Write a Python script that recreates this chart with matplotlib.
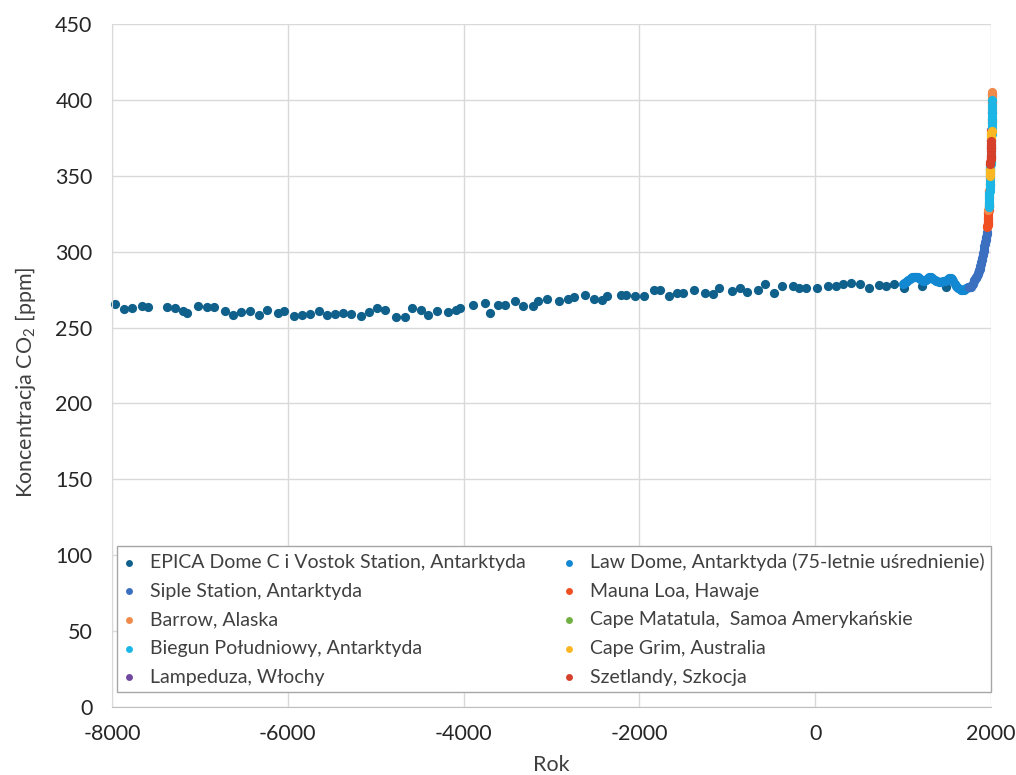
import matplotlib
matplotlib.use('Agg')
import matplotlib.pyplot as plt

plt.rcParams['font.family'] = ['Lato', 'DejaVu Sans']
plt.rcParams['axes.unicode_minus'] = False
plt.rcParams['mathtext.fontset'] = 'custom'
plt.rcParams['mathtext.rm'] = 'Lato'

# EPICA Dome C i Vostok
epica_year = [-7966, -7863, -7776, -7662, -7587, -7370, -7282, -7191, -7146, -7024,
              -6921, -6838, -6713, -6625, -6527, -6432, -6329, -6235, -6109, -6038,
              -5924, -5839, -5745, -5642, -5559, -5464, -5369, -5278, -5164, -5073,
              -4990, -4891, -4769, -4671, -4587, -4489, -4401, -4306, -4177, -4085,
              -4040, -3896, -3755, -3703, -3612, -3527, -3413, -3322, -3213, -3156,
              -3054, -2917, -2814, -2746, -2621, -2522, -2423, -2366, -2206, -2149,
              -2051, -1949, -1838, -1762, -1664, -1568, -1500, -1383, -1257, -1163,
              -1094, -946, -851, -775, -650, -574, -471, -377, -255, -183,
              -107, 26, 147, 231, 318, 402, 508, 610, 721, 804,
              899, 1010, 1220, 1490]
epica_co2 = [265.3, 262.2, 263.0, 264.0, 263.8, 263.3, 262.6, 261.1, 259.8, 264.4,
             263.3, 263.3, 261.1, 258.2, 260.0, 260.9, 258.4, 261.3, 259.7, 260.9,
             257.8, 258.4, 258.9, 260.9, 258.4, 258.9, 259.6, 259.1, 257.8, 260.2,
             262.6, 261.7, 256.9, 256.9, 262.6, 261.3, 258.2, 260.7, 260.4, 261.7,
             262.8, 265.0, 265.9, 259.6, 265.0, 265.0, 267.3, 264.4, 264.4, 267.3,
             269.0, 267.7, 268.6, 269.9, 271.2, 269.0, 268.1, 270.6, 271.2, 271.6,
             270.8, 270.8, 274.7, 274.7, 271.0, 272.5, 272.5, 274.5, 272.9, 272.3,
             275.8, 273.8, 275.8, 273.6, 274.5, 278.7, 272.9, 277.3, 277.1, 275.8,
             275.8, 276.2, 277.1, 277.5, 278.7, 279.3, 278.4, 276.2, 277.8, 277.1,
             278.4, 276.0, 277.5, 277.0]

lawdome_year = [1000, 1015, 1030, 1045, 1060, 1075, 1090, 1105, 1120, 1135,
                1150, 1165, 1180, 1195, 1210, 1225, 1240, 1255, 1270, 1285,
                1300, 1315, 1330, 1345, 1360, 1375, 1390, 1405, 1420, 1435,
                1450, 1465, 1480, 1495, 1510, 1525, 1540, 1555, 1570, 1585,
                1600, 1615, 1630, 1645, 1660, 1675, 1690, 1705, 1720, 1735, 1750, 1765]
lawdome_co2 = [279.0, 279.5, 280.0, 281.0, 281.5, 282.0, 282.5, 283.0, 283.0, 283.5,
               283.5, 283.0, 282.5, 282.0, 281.5, 281.0, 281.0, 281.5, 282.0, 282.5,
               283.0, 283.0, 282.5, 282.0, 281.5, 281.0, 280.5, 280.0, 280.0, 280.0,
               280.5, 281.0, 281.0, 281.5, 282.0, 282.5, 282.5, 282.0, 280.5, 279.0,
               277.5, 276.5, 276.0, 275.5, 275.0, 275.0, 275.0, 275.5, 276.0, 276.5, 277.0, 277.0]

siple_year = [1744, 1754, 1764, 1774, 1784, 1794, 1804, 1812, 1819, 1827,
              1834, 1840, 1847, 1854, 1860, 1865, 1870, 1875, 1880, 1886,
              1891, 1896, 1900, 1905, 1910, 1915, 1920, 1925, 1930, 1934,
              1938, 1942, 1945, 1949, 1953]
siple_co2 = [277.0, 276.5, 276.5, 277.0, 278.0, 279.0, 280.5, 281.2, 282.0, 282.8,
             283.5, 284.2, 285.0, 286.0, 287.0, 287.7, 288.5, 289.5, 290.5, 291.8,
             293.0, 294.5, 296.0, 297.5, 299.0, 300.5, 302.0, 303.5, 305.0, 306.2,
             307.5, 308.8, 310.0, 311.5, 313.0]

maunaloa_year = [1959, 1960, 1961, 1962, 1963, 1964, 1965, 1966, 1967, 1968,
                 1969, 1970, 1971, 1972, 1973, 1974, 1975, 1978, 1981, 1984,
                 1987, 1990, 1993, 1996, 1999, 2002, 2005, 2008, 2011, 2014, 2016]
maunaloa_co2 = [316.0, 316.9, 317.6, 318.5, 319.0, 319.6, 320.0, 321.4, 322.2, 323.0,
                324.6, 325.7, 326.3, 327.5, 329.7, 330.2, 331.1, 335.4, 340.1, 344.7,
                349.2, 354.4, 357.1, 362.6, 368.4, 373.5, 379.8, 385.6, 391.6, 398.7, 404.2]

barrow_year = [1971, 1975, 1980, 1985, 1988, 1990, 1995, 2000, 2004, 2008, 2011, 2013, 2015, 2016]
barrow_co2 = [327.5, 332.0, 340.0, 347.5, 352.0, 355.0, 362.0, 370.5, 378.5, 387.0, 392.5, 397.5, 402.5, 405.5]

southpole_year = [1975, 1976, 1977, 1978, 1979, 1980, 1981, 1982, 1983, 1984,
                  1985, 1986, 1987, 1988, 1989, 1990, 1991, 1992, 1993, 1994,
                  1995, 1996, 1997, 1998, 1999, 2000, 2001, 2002, 2003, 2004,
                  2005, 2006, 2007, 2008, 2009, 2010, 2011, 2012, 2013, 2014,
                  2015, 2016]
southpole_co2 = [329.5, 330.5, 332.0, 333.5, 334.8, 336.5, 337.8, 339.0, 340.3, 341.8,
                 343.3, 344.7, 346.2, 348.3, 349.9, 351.4, 352.7, 353.9, 354.5, 355.8,
                 357.8, 359.5, 360.9, 362.9, 365.0, 366.6, 368.0, 369.9, 371.8, 373.8,
                 375.8, 377.6, 379.5, 381.3, 383.2, 385.0, 387.2, 389.3, 391.5, 393.9,
                 396.6, 400.0]

lampedusa_year = [1993, 1996, 1999, 2002, 2005, 2008, 2011, 2014, 2016]
lampedusa_co2 = [358.0, 363.0, 368.5, 373.5, 380.0, 386.0, 392.0, 398.5, 404.0]

samoa_year = [1976, 1980, 1985, 1990, 1995, 2000, 2005, 2010, 2014, 2016]
samoa_co2 = [330.0, 336.5, 344.0, 352.0, 359.0, 367.5, 377.5, 387.5, 395.5, 400.5]

capegrim_year = [1989, 1990, 1991, 1992, 2003, 2004, 2005, 2006]
capegrim_co2 = [350.0, 351.5, 353.0, 354.0, 375.0, 376.5, 378.0, 379.5]

shetland_year = [1993, 1994, 1995, 1996, 1997, 1998, 1999, 2000, 2001, 2002]
shetland_co2 = [357.5, 359.0, 361.0, 362.5, 364.0, 366.5, 368.0, 369.5, 371.0, 373.0]

fig = plt.figure(figsize=(10.16, 7.75), dpi=100)
ax = fig.add_axes([0.1102, 0.0877, 0.8652, 0.8813])

s = 44
series = [
    ('EPICA Dome C i Vostok Station, Antarktyda', epica_year, epica_co2, '#10608c', 2),
    ('Siple Station, Antarktyda', siple_year, siple_co2, '#3a70bf', 4),
    ('Barrow, Alaska', barrow_year, barrow_co2, '#f08a4b', 6.5),
    ('Biegun Południowy, Antarktyda', southpole_year, southpole_co2, '#1cb6e6', 7),
    ('Lampeduza, Włochy', lampedusa_year, lampedusa_co2, '#7048a0', 5),
    ('Law Dome, Antarktyda (75-letnie uśrednienie)', lawdome_year, lawdome_co2, '#1388d2', 3),
    ('Mauna Loa, Hawaje', maunaloa_year, maunaloa_co2, '#f04f22', 6),
    ('Cape Matatula,  Samoa Amerykańskie', samoa_year, samoa_co2, '#72b043', 5),
    ('Cape Grim, Australia', capegrim_year, capegrim_co2, '#f9b823', 8),
    ('Szetlandy, Szkocja', shetland_year, shetland_co2, '#d6402a', 9),
]
for name, xs, ys, col, z in series:
    ax.scatter(xs, ys, s=s, color=col, linewidths=0, label=name, zorder=z, clip_on=False)

ax.set_xlim(-8000, 2000)
ax.set_ylim(0, 450)
ax.set_xticks(range(-8000, 2001, 2000))
ax.set_yticks(range(0, 451, 50))
ax.grid(True, color='#d9d9d9', linewidth=1.0, zorder=0)
ax.set_axisbelow(True)
for sp in ['top', 'right']:
    ax.spines[sp].set_visible(False)
ax.spines['left'].set_color('#d9d9d9')
ax.spines['bottom'].set_color('#bfbfbf')
ax.tick_params(length=0, labelsize=15.5, colors='#262626')
ax.tick_params(axis='y', pad=14)
ax.tick_params(axis='x', pad=12)

ax.set_xlabel('Rok', fontsize=15.5, color='#404040', labelpad=8)
ax.set_ylabel(r'Koncentracja CO$_\mathrm{2}$ [ppm]', fontsize=15.5, color='#404040')
ax.yaxis.set_label_coords(-0.084, 0.475)

leg = ax.legend(loc='upper left', bbox_to_anchor=(0.0055, 0.2357), ncol=2,
                fontsize=14, frameon=True, fancybox=False, edgecolor='#a6a6a6',
                framealpha=1, markerscale=0.75, handlelength=0.6, handletextpad=0.75,
                columnspacing=1.95, labelspacing=0.6, borderpad=0.35, scatterpoints=1,
                borderaxespad=0)
leg.get_frame().set_linewidth(1.0)
for t in leg.get_texts():
    t.set_color('#404040')

fig.savefig('out.png', dpi=100)
